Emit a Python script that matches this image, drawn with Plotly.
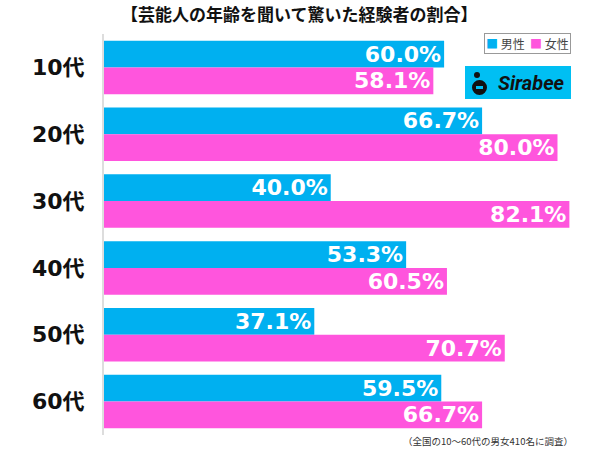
import plotly.graph_objects as go

categories = ["10代", "20代", "30代", "40代", "50代", "60代"]
male = [60.0, 66.7, 40.0, 53.3, 37.1, 59.5]
female = [58.1, 80.0, 82.1, 60.5, 70.7, 66.7]
series_names = ["男性", "女性"]
title_text = "【芸能人の年齢を聞いて驚いた経験者の割合】"
note_text = "（全国の10〜60代の男女410名に調査）"

CYAN = "#00B0F0"
PINK = "#FF55DD"
FONT = "Noto Sans CJK JP"
NUMFONT = "DejaVu Sans, Noto Sans CJK JP"

fig = go.Figure()
for name, vals, col in [(series_names[0], male, CYAN), (series_names[1], female, PINK)]:
    fig.add_trace(go.Bar(
        y=categories, x=vals, name=name, orientation="h",
        marker=dict(color=col, line=dict(width=0)),
        texttemplate="%{x:.1f}%", textposition="inside", insidetextanchor="end",
        textfont=dict(color="white", size=22, family=NUMFONT, weight="bold"),
        constraintext="none", showlegend=False, hoverinfo="skip",
    ))

fig.update_layout(
    width=600, height=449,
    margin=dict(l=104, r=0, t=34, b=14),
    paper_bgcolor="white", plot_bgcolor="white",
    barmode="group", bargap=0.2, bargroupgap=0,
    font=dict(family=FONT),
    xaxis=dict(range=[0, 87.5], visible=False, fixedrange=True),
    yaxis=dict(autorange="reversed", showline=True, linecolor="#DDDDDD", linewidth=2,
               ticks="", ticklabelstandoff=13, showgrid=False,
               tickfont=dict(size=22, color="#111111", family=NUMFONT, weight="bold")),
    annotations=[
        dict(text=title_text, x=0.5, y=12, xref="paper", yref="paper", showarrow=False,
             font=dict(size=17, color="#111111", family=FONT, weight="bold")),
        dict(text=f"<span style='color:{CYAN}'>■</span> {series_names[0]}  <span style='color:{PINK}'>■</span> {series_names[1]}",
             xref="paper", yref="paper", x=1, y=1, showarrow=False,
             font=dict(size=12, color="#444444", family=FONT),
             bordercolor="#999999", borderwidth=1, borderpad=1, bgcolor="white"),
        dict(text="<b><i>Sirabee</i></b>", xref="paper", yref="paper", x=0, y=0, showarrow=False,
             font=dict(size=20, color="#111111", family="Roboto")),
        dict(text=note_text, xref="paper", yref="paper", x=0, y=0, showarrow=False,
             font=dict(size=9.5, color="#333333", family=FONT)),
    ],
)

W, H = 600, 449
ml, mr, mt, mb = 104, 0, 34, 14
pw, ph = W - ml - mr, H - mt - mb
def px(x): return (x - ml) / pw
def py(y): return (H - mb - y) / ph

ann = list(fig.layout.annotations)
ann[0].update(x=px(299), y=py(13), xanchor="center", yanchor="middle")
ann[1].update(x=px(571), y=py(43), xanchor="right", yanchor="middle")
ann[2].update(x=px(567), y=py(83), xanchor="right", yanchor="middle")
ann[3].update(x=px(575), y=py(441), xanchor="right", yanchor="middle")
fig.layout.annotations = ann

fig.add_shape(type="rect", xref="paper", yref="paper",
              x0=px(465), x1=px(571), y0=py(99), y1=py(66),
              fillcolor="#00BFF3", line=dict(width=0), layer="above")
fig.add_shape(type="circle", xref="paper", yref="paper",
              x0=px(472), x1=px(487), y0=py(95), y1=py(80),
              fillcolor="#111111", line=dict(width=0), layer="above")
fig.add_shape(type="circle", xref="paper", yref="paper",
              x0=px(474), x1=px(480), y0=py(78), y1=py(72),
              fillcolor="#111111", line=dict(width=0), layer="above")
fig.add_shape(type="rect", xref="paper", yref="paper",
              x0=px(476), x1=px(483), y0=py(89), y1=py(86),
              fillcolor="#00BFF3", line=dict(width=0), layer="above")

fig.write_html("out.html")
